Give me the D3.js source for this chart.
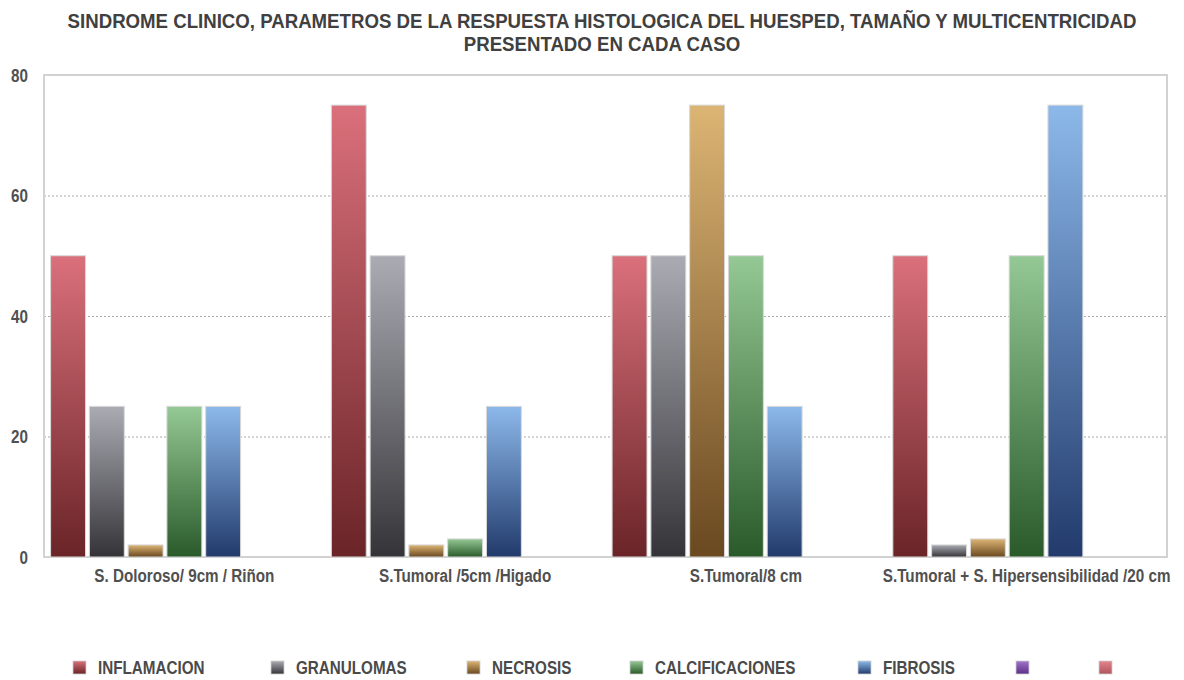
<!DOCTYPE html>
<html>
<head>
<meta charset="utf-8">
<script src="https://cdn.jsdelivr.net/npm/d3@7"></script>
<style>
  html, body { margin: 0; padding: 0; background: #ffffff; }
  svg { display: block; }
  text { font-family: "Liberation Sans", Arial, Helvetica, sans-serif; font-weight: bold; }
</style>
</head>
<body>
<svg id="chart" width="1184" height="680"></svg>
<script>
// ---- data ----
const categories = [
  "S. Doloroso/ 9cm / Riñon",
  "S.Tumoral /5cm /Higado",
  "S.Tumoral/8 cm",
  "S.Tumoral + S. Hipersensibilidad /20 cm"
];
const seriesNames = ["INFLAMACION", "GRANULOMAS", "NECROSIS", "CALCIFICACIONES", "FIBROSIS", "", " "];
const inflamacion     = [50, 75, 50, 50];
const granulomas      = [25, 50, 50, 2];
const necrosis        = [2, 2, 75, 3];
const calcificaciones = [25, 3, 50, 50];
const fibrosis        = [25, 25, 25, 75];
const serie6          = [0, 0, 0, 0];
const serie7          = [0, 0, 0, 0];
const yTicks = [0, 20, 40, 60, 80];
const titleLines = [
  "SINDROME CLINICO, PARAMETROS DE LA RESPUESTA HISTOLOGICA DEL HUESPED, TAMAÑO Y MULTICENTRICIDAD",
  "PRESENTADO EN CADA CASO"
];

const seriesValues = [inflamacion, granulomas, necrosis, calcificaciones, fibrosis, serie6, serie7];
// gradient colours (top, bottom) per series
const seriesColors = [
  ["#da707b", "#6a2427"],
  ["#ababb4", "#343438"],
  ["#dcb574", "#6a4820"],
  ["#94c894", "#2a5a2a"],
  ["#8cb9ea", "#223a6c"],
  ["#a274cc", "#5a2f86"],
  ["#e2848c", "#b0545c"]
];

// ---- layout ----
const svg = d3.select("#chart");
const margin = { left: 44, right: 17, top: 75, bottom: 123 };
const W = 1184, H = 680;
const x0 = margin.left, x1 = W - margin.right;
const yTop = margin.top, yBot = H - margin.bottom;
const SX = 0.87; // horizontal squash for condensed look

const x = d3.scaleBand().domain(categories).range([x0, x1]).padding(0);
const xs = d3.scaleBand().domain(d3.range(seriesNames.length))
  .range([0, x.bandwidth()]).paddingInner(0.1).paddingOuter(0.17);
const y = d3.scaleLinear().domain([0, 80]).range([yBot, yTop]);

// gradients
const defs = svg.append("defs");
seriesColors.forEach((c, i) => {
  const g = defs.append("linearGradient").attr("id", "grad" + i)
    .attr("x1", 0).attr("y1", 0).attr("x2", 0).attr("y2", 1);
  g.append("stop").attr("offset", "0%").attr("stop-color", c[0]);
  g.append("stop").attr("offset", "100%").attr("stop-color", c[1]);
});

function condText(sel, tx, ty, sx) {
  return sel.attr("transform", `translate(${tx},${ty}) scale(${sx || SX},1)`);
}

// title
titleLines.forEach((t, i) => {
  svg.append("text").text(t)
    .call(condText, W / 2 + 10, 28 + i * 23, 0.91)
    .attr("text-anchor", "middle")
    .attr("font-size", 20.5)
    .attr("fill", "#404040");
});

// gridlines
const yAxisGrid = d3.axisLeft(y).tickValues(yTicks.filter(v => v > 0 && v < 80))
  .tickSize(-(x1 - x0)).tickFormat("");
const grid = svg.append("g").attr("transform", `translate(${x0},0)`).call(yAxisGrid);
grid.select(".domain").remove();
grid.selectAll(".tick line")
  .attr("stroke", "#a8a8a8").attr("stroke-width", 1).attr("stroke-dasharray", "2,2");

// frame
svg.append("rect")
  .attr("x", x0).attr("y", yTop)
  .attr("width", x1 - x0).attr("height", yBot - yTop)
  .attr("fill", "none").attr("stroke", "#d2d2d2").attr("stroke-width", 2);

// y labels
const yAxis = d3.axisLeft(y).tickValues(yTicks).tickSize(0).tickPadding(0);
const ya = svg.append("g").attr("transform", `translate(28,0)`).call(yAxis);
ya.select(".domain").remove();
ya.selectAll(".tick text")
  .attr("font-size", 17.5)
  .attr("font-family", "Liberation Sans, Arial, sans-serif")
  .attr("font-weight", "bold")
  .attr("fill", "#505050")
  .attr("dy", "0.36em")
  .attr("transform", `scale(${SX},1)`);

// bars
const groups = svg.append("g").selectAll("g").data(categories).join("g")
  .attr("transform", d => `translate(${x(d)},0)`);
groups.selectAll("rect")
  .data((d, ci) => seriesValues.map((vals, si) => ({ si, v: vals[ci] })).filter(o => o.v > 0))
  .join("rect")
  .attr("x", d => xs(d.si))
  .attr("width", xs.bandwidth())
  .attr("y", d => y(d.v))
  .attr("height", d => y(0) - y(d.v))
  .attr("fill", d => `url(#grad${d.si})`)
  .attr("stroke", "#d8d8d8")
  .attr("stroke-width", 1);

// x labels
categories.forEach(c => {
  svg.append("text").text(c)
    .call(condText, x(c) + x.bandwidth() / 2, 582)
    .attr("text-anchor", "middle")
    .attr("font-size", 17.5)
    .attr("fill", "#505050");
});

// legend
const legendX = [73, 271, 467, 630, 858, 1016, 1099];
const leg = svg.append("g").selectAll("g").data(seriesNames).join("g")
  .attr("transform", (d, i) => `translate(${legendX[i]},661)`);
leg.append("rect")
  .attr("width", 13).attr("height", 13)
  .attr("fill", (d, i) => `url(#grad${i})`)
  .attr("stroke", "#cfcfcf").attr("stroke-width", 0.8);
leg.append("text").text(d => d)
  .attr("transform", `translate(25,13.3) scale(${SX},1)`)
  .attr("font-size", 17.5)
  .attr("fill", "#4a4a4a");
</script>
</body>
</html>
